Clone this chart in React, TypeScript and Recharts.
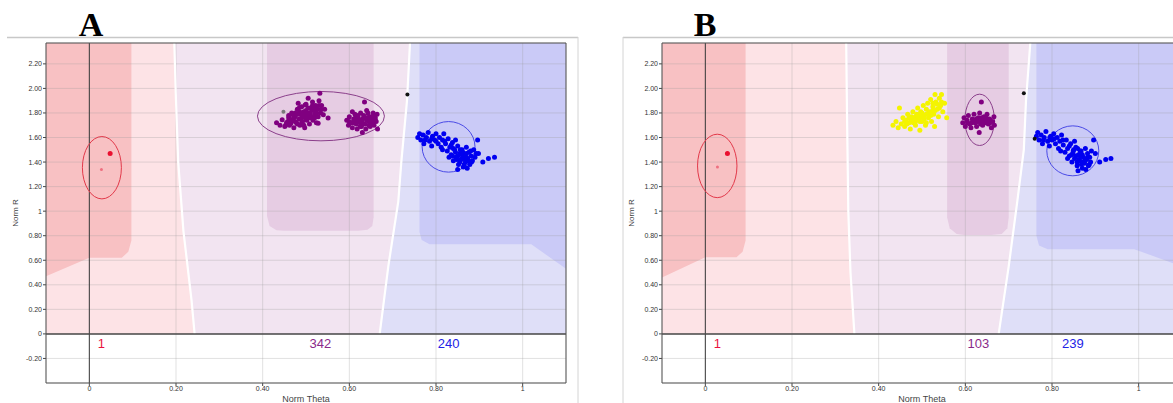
import React from 'react';
import { ScatterChart, Scatter, XAxis, YAxis, CartesianGrid, ReferenceLine, ReferenceArea } from 'recharts';

type Pair = [number, number];
type Box = [number, number, number, number];

const X_TICKS = [0, 0.2, 0.4, 0.6, 0.8, 1];
const Y_TICKS = [-0.2, 0, 0.2, 0.4, 0.6, 0.8, 1, 1.2, 1.4, 1.6, 1.8, 2, 2.2];
const X_DOMAIN: [number, number] = [-0.1, 1.1];
const Y_DOMAIN: [number, number] = [-0.4, 2.37];
const TOP = 2.37;
const COUNT_R = -0.075;

// ---- panel A ----
const A_DARK_PINK: Pair[] = [[-0.1, 2.37], [0.097, 2.37], [0.097, 0.76], [0.09, 0.67], [0.075, 0.62], [0, 0.62], [-0.1, 0.47]];
const A_CURVE_L: Pair[] = [[0.196, 2.37], [0.2, 1.9], [0.205, 1.4], [0.212, 1.08], [0.217, 0.84], [0.236, 0.27], [0.243, 0]];
const A_CURVE_R: Pair[] = [[0.74, 2.37], [0.733, 1.9], [0.72, 1.4], [0.713, 1.08], [0.69, 0.55], [0.67, 0]];
const A_PURPLE_BAND: Pair[] = [[0.41, 2.37], [0.41, 0.96], [0.416, 0.88], [0.432, 0.845], [0.45, 0.84], [0.62, 0.84], [0.642, 0.848], [0.653, 0.88], [0.656, 0.95], [0.656, 2.37]];
const A_BLUE_BAND: Pair[] = [[0.762, 2.37], [0.762, 0.83], [0.767, 0.765], [0.785, 0.73], [1.02, 0.73], [1.1, 0.53], [1.1, 2.37]];

const A_RED: Pair[] = [[0.048, 1.47]];
const A_RED_FAINT: Pair[] = [[0.028, 1.34]];
const A_PURPLE_1: Pair[] = [
  [0.432, 1.72], [0.44, 1.70], [0.445, 1.745], [0.451, 1.69], [0.455, 1.72], [0.46, 1.76], [0.462, 1.70], [0.467, 1.80],
  [0.468, 1.74], [0.472, 1.68], [0.475, 1.77], [0.478, 1.72], [0.48, 1.83], [0.482, 1.88], [0.484, 1.75], [0.486, 1.70],
  [0.488, 1.79], [0.49, 1.85], [0.492, 1.73], [0.495, 1.81], [0.497, 1.68], [0.498, 1.77], [0.50, 1.87], [0.502, 1.74],
  [0.505, 1.92], [0.505, 1.80], [0.508, 1.71], [0.51, 1.84], [0.512, 1.77], [0.515, 1.89], [0.516, 1.74], [0.518, 1.82],
  [0.52, 1.79], [0.522, 1.86], [0.524, 1.72], [0.526, 1.83], [0.528, 1.77], [0.53, 1.90], [0.532, 1.96], [0.534, 1.80],
  [0.536, 1.86], [0.54, 1.785], [0.543, 1.83], [0.551, 1.758], [0.528, 1.717], [0.513, 1.826], [0.47, 1.785], [0.458, 1.73],
  [0.49, 1.76], [0.5, 1.82], [0.52, 1.84], [0.48, 1.79], [0.465, 1.715], [0.495, 1.70], [0.51, 1.76],
  [0.47, 1.75], [0.475, 1.73], [0.48, 1.71], [0.485, 1.81], [0.49, 1.72], [0.495, 1.78], [0.5, 1.75], [0.505, 1.84],
  [0.51, 1.80], [0.515, 1.83], [0.52, 1.76], [0.525, 1.80], [0.53, 1.86], [0.498, 1.865], [0.485, 1.845], [0.46, 1.78],
  [0.453, 1.70], [0.535, 1.83], [0.475, 1.80], [0.5, 1.79], [0.515, 1.86], [0.49, 1.80], [0.505, 1.77], [0.465, 1.74],
];
const A_PURPLE_2: Pair[] = [
  [0.594, 1.74], [0.598, 1.70], [0.60, 1.77], [0.605, 1.72], [0.607, 1.68], [0.61, 1.75], [0.613, 1.79], [0.616, 1.71],
  [0.618, 1.67], [0.62, 1.76], [0.623, 1.73], [0.626, 1.80], [0.628, 1.69], [0.63, 1.75], [0.633, 1.78], [0.635, 1.89],
  [0.636, 1.71], [0.638, 1.67], [0.64, 1.76], [0.643, 1.80], [0.645, 1.73], [0.648, 1.69], [0.65, 1.77], [0.653, 1.74],
  [0.655, 1.80], [0.657, 1.70], [0.66, 1.76], [0.662, 1.73], [0.664, 1.79], [0.665, 1.67], [0.63, 1.64], [0.625, 1.72],
  [0.645, 1.765], [0.615, 1.745], [0.655, 1.715], [0.607, 1.81], [0.64, 1.82],
  [0.6, 1.73], [0.61, 1.72], [0.62, 1.74], [0.63, 1.72], [0.64, 1.74], [0.65, 1.72], [0.66, 1.74], [0.615, 1.77],
  [0.635, 1.76], [0.655, 1.77], [0.625, 1.69], [0.645, 1.70], [0.62, 1.78], [0.65, 1.75],
];
const A_BLUE: Pair[] = [
  [0.758, 1.60], [0.762, 1.63], [0.765, 1.58], [0.77, 1.62], [0.772, 1.55], [0.778, 1.60], [0.782, 1.64], [0.785, 1.57],
  [0.79, 1.53], [0.792, 1.61], [0.797, 1.58], [0.80, 1.63], [0.805, 1.55], [0.808, 1.60], [0.812, 1.52], [0.815, 1.58],
  [0.818, 1.63], [0.822, 1.55], [0.826, 1.49], [0.828, 1.59], [0.832, 1.52], [0.835, 1.46], [0.838, 1.56], [0.84, 1.41],
  [0.843, 1.50], [0.846, 1.44], [0.85, 1.53], [0.852, 1.38], [0.855, 1.47], [0.858, 1.42], [0.86, 1.50], [0.863, 1.36],
  [0.866, 1.45], [0.868, 1.40], [0.87, 1.52], [0.873, 1.43], [0.876, 1.48], [0.878, 1.38], [0.881, 1.45], [0.884, 1.41],
  [0.887, 1.50], [0.89, 1.44], [0.893, 1.47], [0.85, 1.34], [0.838, 1.45], [0.86, 1.46], [0.872, 1.35], [0.845, 1.58],
  [0.83, 1.44], [0.815, 1.50], [0.896, 1.58], [0.898, 1.47], [0.908, 1.40], [0.921, 1.43], [0.935, 1.44],
  [0.85, 1.45], [0.86, 1.43], [0.87, 1.47], [0.875, 1.41], [0.865, 1.38], [0.855, 1.40], [0.88, 1.49], [0.845, 1.48],
  [0.8, 1.57], [0.79, 1.59], [0.775, 1.58], [0.82, 1.57], [0.835, 1.54], [0.84, 1.51], [0.882, 1.40], [0.862, 1.48],
  [0.87, 1.44], [0.856, 1.50], [0.868, 1.42], [0.848, 1.42],
];
const A_BLACK: Pair[] = [[0.734, 1.95]];
const A_GREY: Pair[] = [[0.448, 1.81]];
const A_ELLIPSES: Box[] = [[-0.016, 1.10, 0.074, 1.608], [0.388, 1.573, 0.681, 1.975], [0.768, 1.318, 0.89, 1.73]];
const A_COUNT_TEXT = ['1', '342', '240'];
const A_COUNT_THETA = [0.028, 0.533, 0.829];

// ---- panel B ----
const B_DARK_PINK: Pair[] = [[-0.1, 2.37], [0.093, 2.37], [0.093, 0.76], [0.086, 0.67], [0.072, 0.625], [0, 0.625], [-0.1, 0.46]];
const B_CURVE_L: Pair[] = [[0.325, 2.37], [0.327, 1.8], [0.33, 1.0], [0.335, 0.5], [0.344, 0]];
const B_CURVE_R: Pair[] = [[0.75, 2.37], [0.74, 1.9], [0.735, 1.5], [0.72, 1.08], [0.70, 0.55], [0.677, 0]];
const B_PURPLE_BAND: Pair[] = [[0.558, 2.37], [0.558, 0.95], [0.564, 0.86], [0.58, 0.815], [0.597, 0.805], [0.66, 0.805], [0.684, 0.815], [0.697, 0.86], [0.70, 0.95], [0.70, 2.37]];
const B_BLUE_BAND: Pair[] = [[0.764, 2.37], [0.764, 0.8], [0.77, 0.72], [0.79, 0.69], [0.99, 0.69], [1.1, 0.55], [1.1, 2.37]];

const B_RED: Pair[] = [[0.051, 1.47]];
const B_RED_FAINT: Pair[] = [[0.028, 1.36]];
const B_YELLOW: Pair[] = [
  [0.433, 1.70], [0.44, 1.73], [0.445, 1.68], [0.448, 1.84], [0.452, 1.71], [0.456, 1.76], [0.46, 1.69], [0.463, 1.74],
  [0.467, 1.79], [0.47, 1.72], [0.473, 1.67], [0.476, 1.77], [0.479, 1.81], [0.482, 1.74], [0.485, 1.70], [0.488, 1.79],
  [0.49, 1.84], [0.493, 1.76], [0.495, 1.66], [0.497, 1.81], [0.50, 1.73], [0.503, 1.86], [0.505, 1.78], [0.508, 1.70],
  [0.51, 1.83], [0.513, 1.88], [0.515, 1.76], [0.518, 1.81], [0.52, 1.91], [0.522, 1.73], [0.525, 1.85], [0.527, 1.79],
  [0.529, 1.69], [0.53, 1.95], [0.532, 1.89], [0.535, 1.83], [0.538, 1.77], [0.54, 1.92], [0.543, 1.86], [0.545, 1.95],
  [0.548, 1.81], [0.552, 1.88], [0.557, 1.76], [0.50, 1.77], [0.485, 1.77], [0.47, 1.76], [0.515, 1.80], [0.46, 1.73],
  [0.525, 1.82], [0.495, 1.73],
  [0.475, 1.74], [0.48, 1.72], [0.49, 1.75], [0.495, 1.79], [0.505, 1.75], [0.51, 1.79], [0.52, 1.78], [0.53, 1.82],
  [0.535, 1.87], [0.54, 1.84], [0.525, 1.88], [0.51, 1.72], [0.5, 1.80], [0.485, 1.73], [0.465, 1.71], [0.545, 1.89],
];
const B_PURPLE: Pair[] = [
  [0.594, 1.72], [0.597, 1.76], [0.60, 1.69], [0.604, 1.74], [0.607, 1.78], [0.61, 1.71], [0.613, 1.68], [0.616, 1.75],
  [0.62, 1.79], [0.623, 1.72], [0.626, 1.69], [0.63, 1.76], [0.633, 1.80], [0.636, 1.73], [0.64, 1.70], [0.643, 1.77],
  [0.646, 1.74], [0.65, 1.79], [0.653, 1.71], [0.656, 1.75], [0.66, 1.68], [0.663, 1.73], [0.666, 1.77], [0.667, 1.70],
  [0.618, 1.73], [0.638, 1.76], [0.657, 1.72], [0.637, 1.89], [0.632, 1.64],
  [0.605, 1.72], [0.615, 1.72], [0.625, 1.75], [0.635, 1.71], [0.645, 1.72], [0.655, 1.73], [0.628, 1.73], [0.648, 1.76],
];
const B_BLUE: Pair[] = [
  [0.764, 1.61], [0.767, 1.64], [0.77, 1.58], [0.775, 1.62], [0.778, 1.55], [0.782, 1.60], [0.786, 1.65], [0.79, 1.57],
  [0.794, 1.53], [0.797, 1.61], [0.80, 1.58], [0.804, 1.63], [0.808, 1.55], [0.812, 1.60], [0.815, 1.51], [0.818, 1.57],
  [0.822, 1.62], [0.826, 1.54], [0.83, 1.48], [0.833, 1.58], [0.836, 1.51], [0.84, 1.45], [0.843, 1.55], [0.846, 1.40],
  [0.849, 1.49], [0.852, 1.43], [0.855, 1.52], [0.858, 1.37], [0.861, 1.46], [0.864, 1.41], [0.867, 1.49], [0.87, 1.35],
  [0.872, 1.44], [0.875, 1.39], [0.877, 1.51], [0.88, 1.42], [0.882, 1.47], [0.884, 1.37], [0.887, 1.44], [0.889, 1.40],
  [0.891, 1.49], [0.86, 1.33], [0.845, 1.46], [0.866, 1.45], [0.878, 1.34], [0.852, 1.57], [0.836, 1.43], [0.82, 1.49],
  [0.896, 1.58], [0.9, 1.47], [0.91, 1.40], [0.924, 1.42], [0.936, 1.43],
  [0.855, 1.45], [0.862, 1.42], [0.87, 1.46], [0.876, 1.41], [0.868, 1.38], [0.858, 1.40], [0.882, 1.44], [0.85, 1.50],
  [0.805, 1.59], [0.795, 1.60], [0.78, 1.58], [0.825, 1.58], [0.84, 1.53], [0.848, 1.47], [0.886, 1.38], [0.865, 1.49],
  [0.872, 1.40], [0.859, 1.51],
];
const B_BLACK: Pair[] = [[0.735, 1.96], [0.76, 1.59]];
const B_ELLIPSES: Box[] = [[-0.018, 1.11, 0.073, 1.627], [0.599, 1.535, 0.667, 1.953], [0.788, 1.288, 0.908, 1.695]];
const B_COUNT_TEXT = ['1', '103', '239'];
const B_COUNT_THETA = [0.028, 0.63, 0.848];

// colours
const DARK_PINK = '#f8c1c3';
const PINK = '#fde3e6';
const LAVENDER = '#f2e4f1';
const PURPLE_BAND = '#e6cce3';
const LIGHT_BLUE = '#dfdff8';
const BLUE_BAND = '#cacaf7';
const ELLIPSE_COLOURS = ['#e2394a', '#8b3f8b', '#4a4ae6'];
const COUNT_COLOURS = ['#ea1240', '#8a2a8a', '#2222e6'];
const DOT = {
  red: { color: '#ea1030', r: 2.5 },
  faint: { color: '#ee7080', r: 1.5 },
  purple: { color: '#800080', r: 2.5 },
  blue: { color: '#0000f0', r: 2.5 },
  yellow: { color: '#f4f400', r: 2.5 },
  black: { color: '#111111', r: 2 },
  grey: { color: '#7a7a7a', r: 2 },
};

interface PanelData {
  darkPink: Pair[];
  curveL: Pair[];
  curveR: Pair[];
  purpleBand: Pair[];
  blueBand: Pair[];
  groups: { pts: Pair[]; kind: keyof typeof DOT }[];
  ellipses: Box[];
  countText: string[];
  countTheta: number[];
}

const PANEL_A: PanelData = {
  darkPink: A_DARK_PINK, curveL: A_CURVE_L, curveR: A_CURVE_R, purpleBand: A_PURPLE_BAND, blueBand: A_BLUE_BAND,
  groups: [
    { pts: A_RED, kind: 'red' }, { pts: A_RED_FAINT, kind: 'faint' }, { pts: A_PURPLE_1, kind: 'purple' },
    { pts: A_PURPLE_2, kind: 'purple' }, { pts: A_GREY, kind: 'grey' }, { pts: A_BLACK, kind: 'black' }, { pts: A_BLUE, kind: 'blue' },
  ],
  ellipses: A_ELLIPSES, countText: A_COUNT_TEXT, countTheta: A_COUNT_THETA,
};

const PANEL_B: PanelData = {
  darkPink: B_DARK_PINK, curveL: B_CURVE_L, curveR: B_CURVE_R, purpleBand: B_PURPLE_BAND, blueBand: B_BLUE_BAND,
  groups: [
    { pts: B_RED, kind: 'red' }, { pts: B_RED_FAINT, kind: 'faint' }, { pts: B_YELLOW, kind: 'yellow' },
    { pts: B_PURPLE, kind: 'purple' }, { pts: B_BLUE, kind: 'blue' }, { pts: B_BLACK, kind: 'black' },
  ],
  ellipses: B_ELLIPSES, countText: B_COUNT_TEXT, countTheta: B_COUNT_THETA,
};

const toXY = (a: Pair[]) => a.map(([x, y]) => ({ x, y }));
const toPath = (pts: { x: number; y: number }[], close: boolean) =>
  pts.map((p, i) => `${i ? 'L' : 'M'}${p.x.toFixed(1)},${p.y.toFixed(1)}`).join(' ') + (close ? ' Z' : '');
const hidden = () => <g />;
const fmt = (v: number) => (v === 0 ? '0' : v === 1 ? '1' : v.toFixed(2));

function polygon(key: string, pts: Pair[], fill: string) {
  return (
    <Scatter key={key} data={toXY(pts)} isAnimationActive={false} shape={hidden} lineType="joint" zIndex={-300}
      line={(p: any) => <path d={toPath(p.points, true)} fill={fill} stroke="none" />} />
  );
}

function curve(key: string, pts: Pair[]) {
  return (
    <Scatter key={key} data={toXY(pts)} isAnimationActive={false} shape={hidden} lineType="joint" zIndex={-50}
      line={(p: any) => <path d={toPath(p.points, false)} fill="none" stroke="#ffffff" strokeWidth={2.2} />} />
  );
}

function ellipse(key: string, b: Box, stroke: string) {
  return (
    <Scatter key={key} data={[{ x: b[0], y: b[1] }, { x: b[2], y: b[3] }]} isAnimationActive={false} shape={hidden}
      lineType="joint" zIndex={600}
      line={(p: any) => {
        const [a, c] = p.points;
        return <ellipse cx={(a.x + c.x) / 2} cy={(a.y + c.y) / 2} rx={Math.abs(c.x - a.x) / 2} ry={Math.abs(c.y - a.y) / 2}
          fill="none" stroke={stroke} strokeWidth={1} />;
      }} />
  );
}

function ClusterPlot({ p, width, left, right }: { p: PanelData; width: number; left: number; right: number }) {
  const base: Pair[] = [[X_DOMAIN[0], 0], [X_DOMAIN[0], TOP], [X_DOMAIN[1], TOP], [X_DOMAIN[1], 0]];
  const pink: Pair[] = [[X_DOMAIN[0], 0], [X_DOMAIN[0], TOP], ...p.curveL];
  const lightBlue: Pair[] = [...p.curveR, [X_DOMAIN[1], 0], [X_DOMAIN[1], TOP]];
  const tick = { fontSize: 7, fill: '#333', fontFamily: 'Liberation Sans, Arial, sans-serif' };
  return (
    <ScatterChart width={width} height={403} margin={{ top: 43, right, bottom: 0, left }}>
      <XAxis type="number" dataKey="x" domain={X_DOMAIN} ticks={X_TICKS} interval={0} allowDataOverflow height={20}
        axisLine={false} tickLine={{ stroke: '#444' }} tickSize={3} tickMargin={0} tick={tick} tickFormatter={fmt}
        label={{ value: 'Norm Theta', position: 'insideBottom', offset: 1, style: { fontSize: 9, fill: '#444', fontFamily: 'Liberation Sans, Arial, sans-serif' } }} />
      <YAxis type="number" dataKey="y" domain={Y_DOMAIN} ticks={Y_TICKS} interval={0} allowDataOverflow width={40}
        axisLine={false} tickLine={{ stroke: '#444' }} tickSize={3} tickMargin={1} tick={tick} tickFormatter={fmt}
        label={{ value: 'Norm R', angle: -90, position: 'insideLeft', offset: 9, style: { textAnchor: 'middle', fontSize: 8, fill: '#444', fontFamily: 'Liberation Sans, Arial, sans-serif' } }} />
      {polygon('base', base, LAVENDER)}
      {polygon('pink', pink, PINK)}
      {polygon('lightBlue', lightBlue, LIGHT_BLUE)}
      {polygon('darkPink', p.darkPink, DARK_PINK)}
      {polygon('purpleBand', p.purpleBand, PURPLE_BAND)}
      {polygon('blueBand', p.blueBand, BLUE_BAND)}
      <CartesianGrid stroke="#9a9a9a" strokeOpacity={0.3} zIndex={-100} />
      {curve('curveL', p.curveL)}
      {curve('curveR', p.curveR)}
      <ReferenceLine x={0} stroke="#3a3a3a" strokeWidth={1} zIndex={550} />
      <ReferenceLine y={0} stroke="#4a4a4a" strokeWidth={1.5} zIndex={550} />
      <ReferenceArea x1={X_DOMAIN[0]} x2={X_DOMAIN[1]} y1={Y_DOMAIN[0]} y2={Y_DOMAIN[1]} fill="none" fillOpacity={0}
        stroke="#555" strokeWidth={1} zIndex={560} />
      {p.ellipses.map((b, i) => ellipse(`ell${i}`, b, ELLIPSE_COLOURS[i]))}
      {p.groups.map((g, i) => (
        <Scatter key={`g${i}`} data={toXY(g.pts)} isAnimationActive={false} zIndex={600}
          shape={(s: any) => <circle cx={s.cx} cy={s.cy} r={DOT[g.kind].r} fill={DOT[g.kind].color} />} />
      ))}
      {p.countText.map((t, i) => (
        <Scatter key={`c${i}`} data={[{ x: p.countTheta[i], y: COUNT_R }]} isAnimationActive={false} zIndex={600}
          shape={(s: any) => (
            <text x={s.cx} y={s.cy} textAnchor="middle" dominantBaseline="central" fill={COUNT_COLOURS[i]}
              fontSize={13} fontFamily="Liberation Sans, Arial, sans-serif">{t}</text>
          )} />
      ))}
    </ScatterChart>
  );
}

export default function App() {
  return (
    <div style={{ position: 'absolute', left: 0, top: 0, width: 1173, height: 403, overflow: 'hidden', background: '#fff' }}>
      <div style={{ position: 'absolute', left: 0, top: 0 }}>
        <ClusterPlot p={PANEL_A} width={580} left={6} right={14} />
      </div>
      <div style={{ position: 'absolute', left: 580, top: 0 }}>
        <ClusterPlot p={PANEL_B} width={602} left={42} right={0} />
      </div>
      <svg width={1173} height={403} style={{ position: 'absolute', left: 0, top: 0, pointerEvents: 'none' }}>
        <line x1={7} y1={37.5} x2={578} y2={37.5} stroke="#c8c8c8" strokeWidth={1.5} />
        <line x1={578} y1={37} x2={578} y2={403} stroke="#d4d4d4" strokeWidth={1} />
        <line x1={623} y1={37.5} x2={1173} y2={37.5} stroke="#c8c8c8" strokeWidth={1.5} />
        <line x1={623} y1={37} x2={623} y2={403} stroke="#d4d4d4" strokeWidth={1} />
        <text x={91} y={36} textAnchor="middle" fontSize={34} fontWeight="bold" fontFamily="Liberation Serif, Times New Roman, serif">A</text>
        <text x={705} y={36} textAnchor="middle" fontSize={34} fontWeight="bold" fontFamily="Liberation Serif, Times New Roman, serif">B</text>
      </svg>
    </div>
  );
}
